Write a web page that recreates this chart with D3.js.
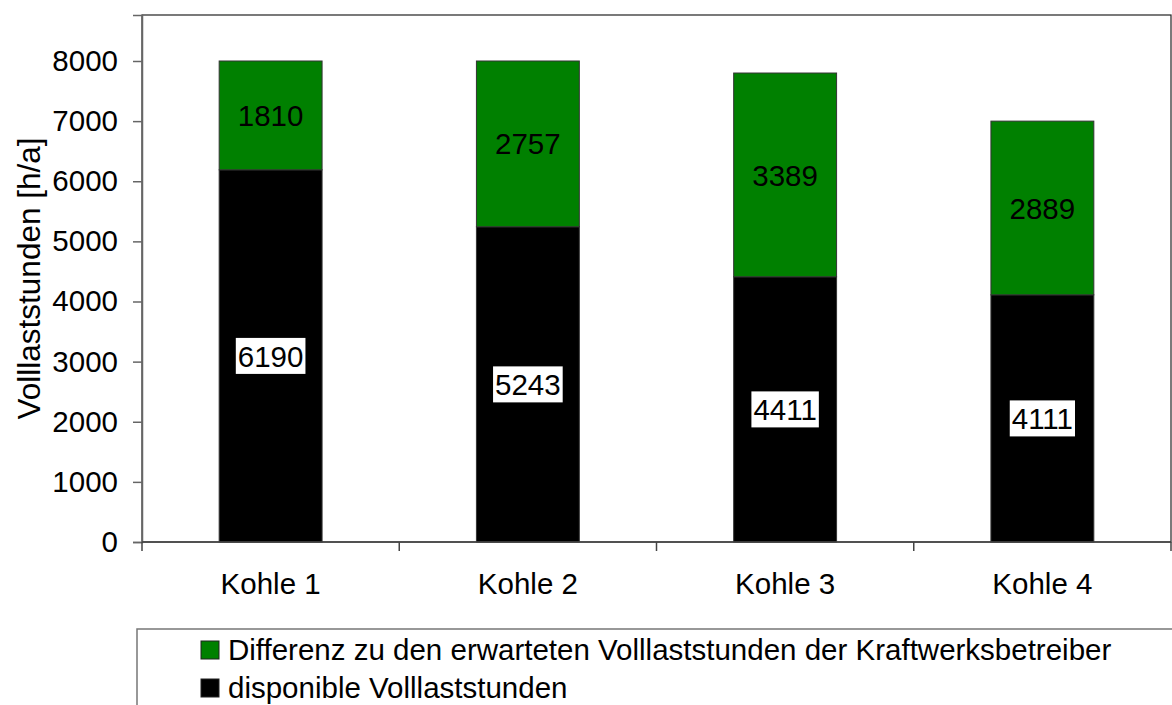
<!DOCTYPE html>
<html lang="de">
<head>
    <meta charset="UTF-8">
    <title>Volllaststunden Kohle</title>
    <script src="https://d3js.org/d3.v7.min.js"></script>
    <style>
        body {
            margin: 0;
            background: white;
        }
        svg {
            display: block;
            font-family: "Liberation Sans", Arial, sans-serif;
        }
    </style>
</head>
<body>
    <svg id="chart" width="1172" height="705"></svg>
    <script>
        // data
        const categories = ["Kohle 1", "Kohle 2", "Kohle 3", "Kohle 4"];
        const disponibel = [6190, 5243, 4411, 4111];
        const differenz = [1810, 2757, 3389, 2889];
        const yTicks = [0, 1000, 2000, 3000, 4000, 5000, 6000, 7000, 8000];
        const legendLabels = ["Differenz zu den erwarteten Volllaststunden der Kraftwerksbetreiber",
                              "disponible Volllaststunden"];
        const colors = ["#008000", "#000000"];

        const svg = d3.select("#chart");
        const fontSize = 29.5;

        const plot = {left: 142, right: 1171, top: 15, bottom: 542};

        const x = d3.scaleBand()
            .domain(categories)
            .range([plot.left, plot.right])
            .paddingInner(0.6)
            .paddingOuter(0.3);
        const xEdge = d3.scaleBand()
            .domain(categories)
            .range([plot.left, plot.right]);

        const y = d3.scaleLinear()
            .domain([0, 8765])
            .range([plot.bottom, plot.top]);

        // plot frame
        svg.append("rect")
            .attr("x", plot.left).attr("y", plot.top)
            .attr("width", plot.right - plot.left)
            .attr("height", plot.bottom - plot.top)
            .attr("fill", "white")
            .attr("stroke", "#222")
            .attr("stroke-width", 1.2);

        // stacked bars
        const stacked = categories.map((c, i) => ({
            cat: c,
            segs: [
                {y0: 0, y1: disponibel[i], v: disponibel[i], color: colors[1], box: true},
                {y0: disponibel[i], y1: disponibel[i] + differenz[i], v: differenz[i], color: colors[0], box: false}
            ]
        }));

        const groups = svg.append("g").selectAll("g")
            .data(stacked)
            .enter().append("g");

        groups.selectAll("rect")
            .data(d => d.segs.map(s => ({...s, cat: d.cat})))
            .enter().append("rect")
            .attr("x", d => x(d.cat))
            .attr("width", x.bandwidth())
            .attr("y", d => y(d.y1))
            .attr("height", d => y(d.y0) - y(d.y1))
            .attr("fill", d => d.color)
            .attr("stroke", "#333")
            .attr("stroke-width", 1);

        // y axis
        const yAxis = svg.append("g")
            .attr("transform", `translate(${plot.left},0)`)
            .call(d3.axisLeft(y).tickValues(yTicks).tickSize(9).tickPadding(15).tickFormat(d3.format("d")));
        yAxis.select(".domain").attr("stroke", "#666").attr("stroke-width", 1.5);
        yAxis.selectAll(".tick line").attr("stroke", "#666").attr("stroke-width", 1.5);
        yAxis.selectAll("text")
            .attr("font-size", fontSize)
            .attr("font-family", "Liberation Sans, Arial, sans-serif")
            .attr("fill", "black");

        // x axis line and ticks at category edges
        svg.append("line")
            .attr("x1", plot.left).attr("x2", plot.right)
            .attr("y1", plot.bottom).attr("y2", plot.bottom)
            .attr("stroke", "#444").attr("stroke-width", 1.5);
        const edges = categories.map(c => xEdge(c)).concat([plot.right]);
        svg.append("g").selectAll("line")
            .data(edges)
            .enter().append("line")
            .attr("x1", d => d).attr("x2", d => d)
            .attr("y1", plot.bottom).attr("y2", plot.bottom + 9)
            .attr("stroke", "#444").attr("stroke-width", 1.5);

        svg.append("g").selectAll("text")
            .data(categories)
            .enter().append("text")
            .attr("x", d => xEdge(d) + xEdge.bandwidth() / 2)
            .attr("y", 594)
            .attr("text-anchor", "middle")
            .attr("font-size", fontSize)
            .text(d => d);

        // y axis title
        svg.append("text")
            .attr("transform", `translate(40,${(plot.top + plot.bottom) / 2}) rotate(-90)`)
            .attr("text-anchor", "middle")
            .attr("font-size", 31.5)
            .text("Volllaststunden [h/a]");

        // value labels
        const labels = svg.append("g");
        stacked.forEach(d => {
            d.segs.forEach(s => {
                const cx = x(d.cat) + x.bandwidth() / 2;
                const cy = y((s.y0 + s.y1) / 2);
                const t = labels.append("text")
                    .attr("x", cx)
                    .attr("y", cy)
                    .attr("dy", "0.36em")
                    .attr("text-anchor", "middle")
                    .attr("font-size", fontSize)
                    .attr("fill", "black")
                    .text(s.v);
                if (s.box) {
                    const bb = t.node().getBBox();
                    labels.insert("rect", () => t.node())
                        .attr("x", bb.x - 2)
                        .attr("y", cy - 18)
                        .attr("width", bb.width + 4)
                        .attr("height", 36)
                        .attr("fill", "white");
                }
            });
        });

        // legend
        const legend = svg.append("g");
        legend.append("rect")
            .attr("x", 137).attr("y", 629)
            .attr("width", 1100).attr("height", 120)
            .attr("fill", "white")
            .attr("stroke", "#777")
            .attr("stroke-width", 1.5);
        const items = legend.selectAll("g.item")
            .data(legendLabels)
            .enter().append("g")
            .attr("class", "item")
            .attr("transform", (d, i) => `translate(201,${641 + i * 38})`);
        items.append("rect")
            .attr("width", 18).attr("height", 18)
            .attr("fill", (d, i) => colors[i])
            .attr("stroke", "#222")
            .attr("stroke-width", 1);
        items.append("text")
            .attr("x", 27)
            .attr("y", 19)
            .attr("font-size", fontSize)
            .text(d => d);
    </script>
</body>
</html>
